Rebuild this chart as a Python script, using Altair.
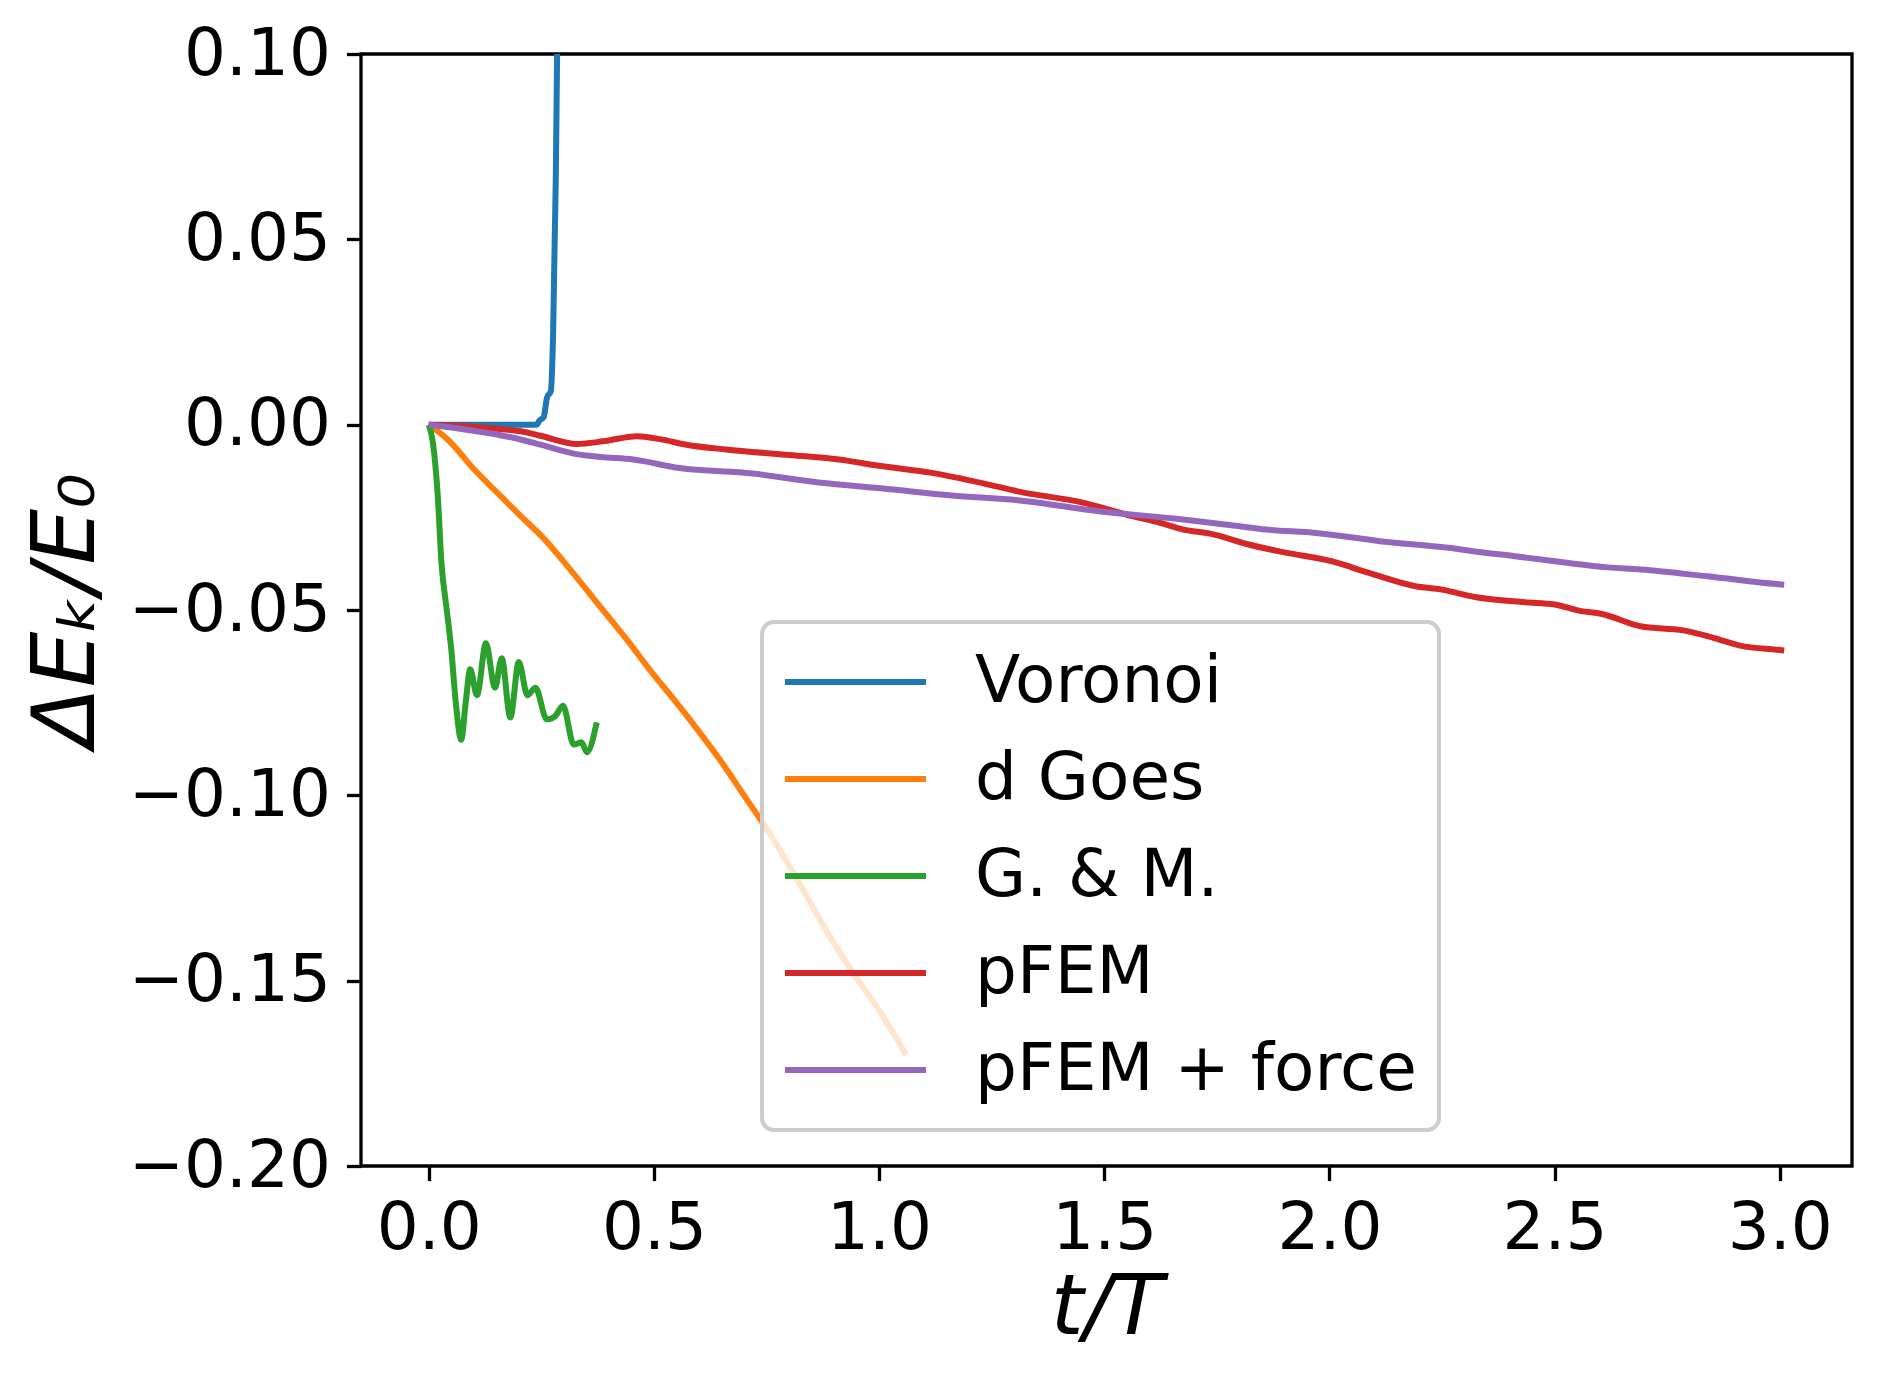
import altair as alt
import pandas as pd

series_names = ["Voronoi", "d Goes", "G. & M.", "pFEM", "pFEM + force"]
series_colors = ["#1f77b4", "#ff7f0e", "#2ca02c", "#d62728", "#9467bd"]

voronoi_t = [0.0, 0.10, 0.20, 0.240, 0.245, 0.255, 0.263, 0.271, 0.276, 0.282, 0.285, 0.29]
voronoi_e = [0.0, 0.0, 0.0, 0.0, 0.001, 0.002, 0.0075, 0.009, 0.024, 0.066, 0.100, 0.20]

goes_t = [0.0, 0.042, 0.101, 0.160, 0.219, 0.25, 0.30, 0.38, 0.44, 0.49, 0.55, 0.595, 0.65, 0.70, 0.75,
          0.81, 0.90, 0.96, 1.0, 1.06]
goes_e = [0.0, -0.004, -0.0121, -0.0193, -0.0264, -0.030, -0.037, -0.049, -0.058, -0.066, -0.075, -0.082,
          -0.091, -0.100, -0.109, -0.121, -0.140, -0.151, -0.158, -0.170]

gm_t = [0.0, 0.008, 0.020, 0.028, 0.040, 0.050, 0.060, 0.072, 0.082, 0.092, 0.107, 0.127, 0.147, 0.162,
        0.181, 0.200, 0.219, 0.237, 0.262, 0.281, 0.298, 0.322, 0.339, 0.351, 0.373]
gm_e = [0.0, -0.004, -0.0193, -0.037, -0.050, -0.0607, -0.075, -0.085, -0.075, -0.066, -0.073, -0.059,
        -0.071, -0.063, -0.079, -0.064, -0.073, -0.071, -0.0795, -0.0786, -0.0758, -0.0863, -0.0857,
        -0.0884, -0.0803]

pfem_t = [0.0, 0.204, 0.248, 0.329, 0.387, 0.462, 0.513, 0.572, 0.660, 0.793, 0.911, 0.999, 1.117, 1.234,
          1.308, 1.455, 1.551, 1.624, 1.676, 1.735, 1.823, 1.897, 2.007, 2.088, 2.191, 2.250, 2.323, 2.434,
          2.500, 2.559, 2.603, 2.691, 2.786, 2.853, 2.912, 2.993, 3.01]
pfem_e = [0.0, -0.0018, -0.003, -0.0052, -0.0045, -0.0031, -0.0039, -0.0054, -0.0067, -0.0081, -0.0094,
          -0.0111, -0.013, -0.0159, -0.018, -0.0211, -0.0243, -0.0265, -0.0283, -0.0294, -0.0324, -0.0344,
          -0.0369, -0.040, -0.0436, -0.0445, -0.0465, -0.0479, -0.0485, -0.0503, -0.051, -0.0544, -0.0555,
          -0.0575, -0.0596, -0.0607, -0.0609]

force_t = [0.0, 0.204, 0.248, 0.322, 0.381, 0.454, 0.557, 0.719, 0.866, 1.014, 1.161, 1.308, 1.492, 1.661,
           1.786, 1.860, 1.970, 2.117, 2.264, 2.323, 2.412, 2.471, 2.618, 2.691, 2.838, 2.993, 3.01]
force_e = [0.0, -0.004, -0.0054, -0.0078, -0.0087, -0.0094, -0.0117, -0.0132, -0.0156, -0.0173, -0.0191,
           -0.0204, -0.0234, -0.0254, -0.0272, -0.0283, -0.0292, -0.0315, -0.0332, -0.0342, -0.0355,
           -0.0364, -0.0385, -0.0391, -0.0409, -0.043, -0.0432]

x_ticks = [0.0, 0.5, 1.0, 1.5, 2.0, 2.5, 3.0]
y_ticks = [-0.20, -0.15, -0.10, -0.05, 0.00, 0.05, 0.10]

rows = []
for name, ts, es in zip(series_names,
                        [voronoi_t, goes_t, gm_t, pfem_t, force_t],
                        [voronoi_e, goes_e, gm_e, pfem_e, force_e]):
    for i, (t, e) in enumerate(zip(ts, es)):
        rows.append({"series": name, "t": t, "e": e, "i": i})
df = pd.DataFrame(rows)

FONT = "DejaVu Sans"

chart = alt.Chart(df).mark_line(strokeWidth=6, clip=True, interpolate="monotone").encode(
    x=alt.X("t:Q",
            scale=alt.Scale(domain=[-0.1505, 3.1605], nice=False, zero=False),
            axis=alt.Axis(values=x_ticks, format=".1f", title="t/T",
                          titlePadding=6, labelPadding=16)),
    y=alt.Y("e:Q",
            scale=alt.Scale(domain=[-0.2, 0.1], nice=False, zero=False),
            axis=alt.Axis(values=y_ticks, format=".2f", title="ΔEₖ/E₀",
                          titleX=-294, titleBaseline="middle", titleAlign="center",
                          titleAngle=270, titleFontSize=88, labelPadding=16)),
    color=alt.Color("series:N",
                    scale=alt.Scale(domain=series_names, range=series_colors),
                    legend=alt.Legend(
                        title=None, orient="none", legendX=401, legendY=568,
                        symbolType="stroke", symbolSize=19881, symbolStrokeWidth=6,
                        symbolOffset=-2, labelOffset=46, clipHeight=76, rowPadding=21,
                        labelFontSize=66, labelFont=FONT, labelColor="black",
                        fillColor="rgba(255,255,255,0.8)", strokeColor="#cccccc",
                        cornerRadius=12, padding=22,
                        labelLimit=800)),
    order=alt.Order("i:Q"),
).properties(
    width=1491, height=1112,
    autosize=alt.AutoSizeParams(type="none"),
    padding={"left": 353, "top": 46, "right": 12, "bottom": 200},
).configure_view(
    stroke="black", strokeWidth=3.3
).configure_legend(
    strokeWidth=4
).configure_axis(
    domain=False, grid=False,
    labelFont=FONT, labelFontSize=66, labelColor="black",
    labelFlush=False, labelOverlap=False, labelLimit=500,
    tickColor="black", tickWidth=3.3, tickSize=14.6,
    titleFont=FONT, titleFontSize=84, titleFontStyle="italic",
    titleFontWeight="normal", titleColor="black",
)

chart.save("out.html", embed_options={"renderer": "svg", "actions": False})
